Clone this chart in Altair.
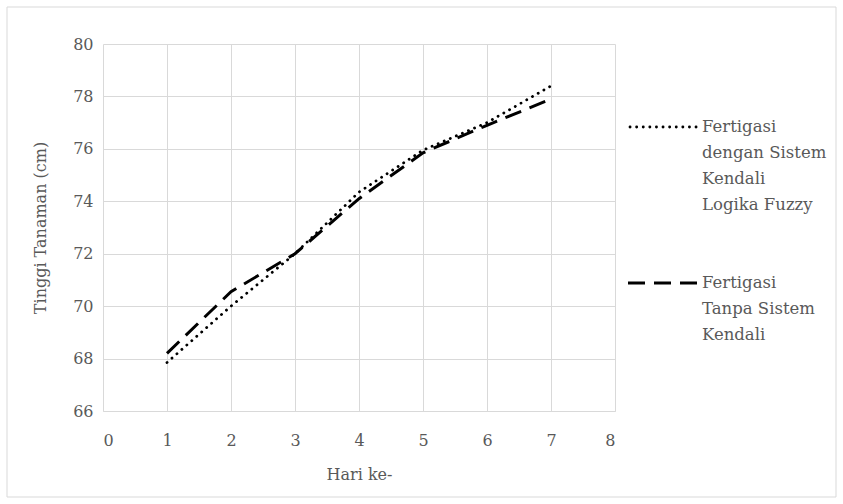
import altair as alt
import pandas as pd

days = [1, 2, 3, 4, 5, 6, 7]
fuzzy = [67.85, 70.0, 72.0, 74.35, 75.95, 77.0, 78.4]
tanpa = [68.2, 70.55, 72.0, 74.1, 75.85, 76.9, 77.9]
series_names = ["Fertigasi dengan Sistem Kendali Logika Fuzzy", "Fertigasi Tanpa Sistem Kendali"]
legend_labels = ["Fertigasi\ndengan Sistem\nKendali\nLogika Fuzzy", "Fertigasi\nTanpa Sistem\nKendali"]
x_ticks = [0, 1, 2, 3, 4, 5, 6, 7, 8]
y_ticks = [66, 68, 70, 72, 74, 76, 78, 80]

df = pd.DataFrame({
    "Hari": days * 2,
    "Tinggi": fuzzy + tanpa,
    "Seri": [series_names[0]] * len(days) + [series_names[1]] * len(days),
})

FONT = "DejaVu Serif"
GRAY = "#595959"
GRID = "#d9d9d9"
FS = 16

x_enc = alt.X("Hari:Q", scale=alt.Scale(domain=[0, 8], nice=False),
              axis=alt.Axis(values=x_ticks, title="Hari ke-", grid=True, ticks=False,
                            labelPadding=21, titlePadding=18, domainColor=GRID))
y_enc = alt.Y("Tinggi:Q", scale=alt.Scale(domain=[66, 80], nice=False, zero=False),
              axis=alt.Axis(values=y_ticks, title="Tinggi Tanaman (cm)", grid=True, ticks=False,
                            labelPadding=10, titlePadding=24, domain=False))

def line_for(name, dash, width, cap):
    return alt.Chart(df).transform_filter(alt.datum.Seri == name).mark_line(
        color="black", strokeDash=dash, strokeWidth=width, strokeCap=cap
    ).encode(x=x_enc, y=y_enc)

line1 = line_for(series_names[0], [0.1, 6.5], 2.8, "round")
line2 = line_for(series_names[1], [17, 9], 3, "butt")

one = pd.DataFrame({"k": [0]})
leg_sym1 = alt.Chart(one).mark_rule(color="black", strokeDash=[0.1, 6.5], strokeWidth=2.8, strokeCap="round").encode(
    x=alt.value(527), x2=alt.value(595), y=alt.value(83))
leg_sym2 = alt.Chart(one).mark_rule(color="black", strokeDash=[17, 9], strokeWidth=3).encode(
    x=alt.value(525), x2=alt.value(595), y=alt.value(239))

def leg_text(label, ypos):
    return alt.Chart(pd.DataFrame({"label": [label]})).mark_text(
        align="left", baseline="middle", font=FONT, fontSize=16.5, color=GRAY, lineBreak="\n", lineHeight=26
    ).encode(x=alt.value(599), y=alt.value(ypos), text="label:N")

leg_text1 = leg_text(legend_labels[0], 83)
leg_text2 = leg_text(legend_labels[1], 239)

border = alt.Chart(one).mark_rect(fill=None, stroke=GRID, strokeWidth=1).encode(
    x=alt.value(-96), x2=alt.value(733), y=alt.value(-37), y2=alt.value(453))

chart = alt.layer(border, line1, line2, leg_sym1, leg_sym2, leg_text1, leg_text2).properties(
    width=512, height=367,
    autosize=alt.AutoSizeParams(type="none"),
    padding={"left": 103, "top": 44, "right": 228, "bottom": 93},
    background="white",
).configure(font=FONT).configure_view(stroke=None).configure_axis(
    labelFont=FONT, titleFont=FONT, labelFontSize=FS, titleFontSize=FS,
    labelColor=GRAY, titleColor=GRAY, titleFontWeight="normal", gridColor=GRID, gridWidth=1,
)

chart.save("out.html", embed_options={"renderer": "svg", "actions": False})
